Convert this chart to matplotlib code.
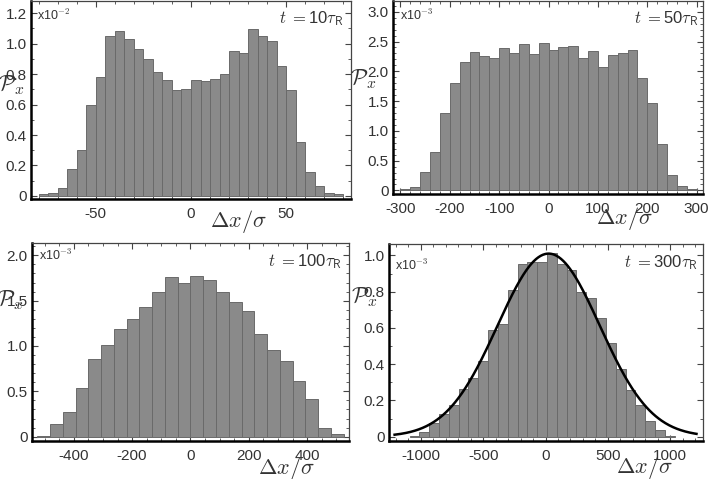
import numpy as np
import matplotlib
matplotlib.use("Agg")
import matplotlib.pyplot as plt
from matplotlib.ticker import MultipleLocator, FuncFormatter

plt.rcParams["font.family"] = ["Liberation Sans", "DejaVu Sans"]
plt.rcParams["mathtext.fontset"] = "cm"
plt.rcParams["axes.unicode_minus"] = False

# histogram heights (in units of the "x10^n" factor shown in each panel)
p10_start, p10_width = -80, 5
p10_heights = [0.01, 0.017, 0.054, 0.178, 0.30, 0.597, 0.78, 1.052, 1.08, 1.027,
               0.965, 0.896, 0.813, 0.76, 0.696, 0.703, 0.761, 0.755, 0.766, 0.80,
               0.954, 0.937, 1.093, 1.05, 1.02, 0.852, 0.696, 0.354, 0.156, 0.067,
               0.022, 0.01]

p50_start, p50_width = -300, 20
p50_heights = [0.03, 0.055, 0.31, 0.65, 1.30, 1.80, 2.16, 2.33, 2.26, 2.23,
               2.39, 2.30, 2.465, 2.29, 2.475, 2.35, 2.40, 2.43, 2.23, 2.34,
               2.08, 2.28, 2.31, 2.35, 1.89, 1.46, 0.78, 0.26, 0.08, 0.03]

p100_start, p100_width = -525, 43.75
p100_heights = [0.007, 0.14, 0.27, 0.54, 0.86, 1.01, 1.19, 1.30, 1.43, 1.60,
                1.765, 1.69, 1.775, 1.73, 1.60, 1.48, 1.39, 1.135, 0.96, 0.84,
                0.615, 0.416, 0.096, 0.03]

p300_start, p300_width = -1090, 78.7
p300_heights = [0.005, 0.026, 0.074, 0.123, 0.173, 0.263, 0.324, 0.42, 0.59, 0.62,
                0.807, 0.954, 0.961, 0.961, 1.013, 0.954, 0.92, 0.80, 0.764, 0.656,
                0.516, 0.372, 0.256, 0.173, 0.087, 0.037, 0.004]

# gaussian fit drawn on the last panel
fit_amp, fit_mu, fit_sigma = 1.01, 25, 410
fit_range = 1210

time_labels = ["10", "50", "100", "300"]
scale_exps = ["-2", "-3", "-3", "-3"]

BAR_FACE = "#8a8a8a"
BAR_EDGE = "#6a6a6a"
TEXT = "#333333"


def fmt_y(v, pos):
    if abs(v) < 1e-9:
        return "0"
    return f"{v:.1f}"


def fmt_x(v, pos):
    return f"{int(round(v))}"


def draw_panel(ax, start, width, heights, xlim, ylim, xmaj, xmin, ymaj, ymin,
               tlabel, exp, txt_pos):
    lefts = start + width * np.arange(len(heights))
    ax.bar(lefts, heights, width=width, align="edge", color=BAR_FACE,
           edgecolor=BAR_EDGE, linewidth=0.7, zorder=2)
    ax.set_xlim(*xlim)
    ax.set_ylim(*ylim)
    ax.xaxis.set_major_locator(MultipleLocator(xmaj))
    ax.xaxis.set_minor_locator(MultipleLocator(xmin))
    ax.yaxis.set_major_locator(MultipleLocator(ymaj))
    ax.yaxis.set_minor_locator(MultipleLocator(ymin))
    ax.yaxis.set_major_formatter(FuncFormatter(fmt_y))
    ax.xaxis.set_major_formatter(FuncFormatter(fmt_x))
    ax.tick_params(which="both", direction="in", top=True, right=True,
                   labelsize=11, labelcolor=TEXT, color="#444444")
    ax.tick_params(which="major", length=4, width=0.8)
    ax.tick_params(which="minor", length=2.5, width=0.6)
    ax.tick_params(axis="x", pad=6)
    ax.tick_params(axis="y", pad=3)
    for s in ("left", "bottom"):
        ax.spines[s].set_linewidth(1.8)
        ax.spines[s].set_color("black")
    for s in ("top", "right"):
        ax.spines[s].set_linewidth(0.9)
        ax.spines[s].set_color("#444444")

    (ex, ey), (tx, ty), (px, py), (lx, ly) = txt_pos
    ax.text(ex, ey, "x10$^{" + exp + "}$", transform=ax.transAxes,
            ha="left", va="top", fontsize=9, color=TEXT)
    ax.text(tx, ty, r"$t$ $=$" + tlabel + r"$\mathsf{\tau}_{\mathsf{R}}$",
            transform=ax.transAxes, ha="right", va="center", fontsize=12,
            color=TEXT)
    ax.text(px, py, r"$\mathcal{P}_x$", transform=ax.transAxes,
            ha="center", va="center", fontsize=16, color=TEXT)
    ax.text(lx, ly, r"$\Delta x/\sigma$", transform=ax.transAxes,
            ha="center", va="center", fontsize=16, color=TEXT)


fig = plt.figure(figsize=(7.08, 4.79), dpi=100)

ax1 = fig.add_axes([0.0438, 0.5846, 0.452, 0.4134])
ax2 = fig.add_axes([0.5551, 0.595, 0.4379, 0.4029])
ax3 = fig.add_axes([0.0452, 0.0793, 0.4477, 0.4134])
ax4 = fig.add_axes([0.5494, 0.0793, 0.4435, 0.4113])

draw_panel(ax1, p10_start, p10_width, p10_heights, (-84, 84), (-0.02, 1.28),
           50, 10, 0.2, 0.1, time_labels[0], scale_exps[0],
           [(0.02, 0.965), (0.975, 0.909), (-0.06, 0.576), (0.647, -0.115)])
draw_panel(ax2, p50_start, p50_width, p50_heights, (-315, 313), (-0.06, 3.18),
           100, 20, 0.5, 0.1, time_labels[1], scale_exps[1],
           [(0.023, 0.965), (0.984, 0.907), (-0.097, 0.596), (0.748, -0.125)])
draw_panel(ax3, p100_start, p100_width, p100_heights, (-543, 543), (-0.048, 2.136),
           200, 50, 0.5, 0.1, time_labels[2], scale_exps[2],
           [(0.022, 0.975), (0.978, 0.904), (-0.067, 0.712), (0.804, -0.14)])
draw_panel(ax4, p300_start, p300_width, p300_heights, (-1255, 1262), (-0.024, 1.063),
           500, 100, 0.2, 0.1, time_labels[3], scale_exps[3],
           [(0.019, 0.93), (0.984, 0.904), (-0.08, 0.731), (0.812, -0.135)])

xs = np.linspace(-fit_range, fit_range, 400)
ax4.plot(xs, fit_amp * np.exp(-(xs - fit_mu) ** 2 / (2 * fit_sigma ** 2)),
         color="black", linewidth=1.8, zorder=3)

fig.savefig("out.png", dpi=100)
